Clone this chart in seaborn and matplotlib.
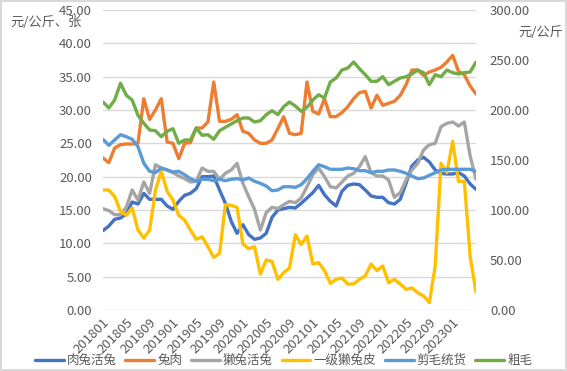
import numpy as np
import pandas as pd
import matplotlib
matplotlib.use('Agg')
import matplotlib.pyplot as plt
import seaborn as sns
from matplotlib.ticker import FormatStrFormatter, MultipleLocator

# Месяцы 201801 - 202305
months = [f"{y}{m:02d}" for y in range(2018, 2024) for m in range(1, 13)][:65]
tick_labels = months[:61:4]

# Левая ось (元/公斤、张)
rabbit_live = [11.9, 12.6, 13.6, 13.8, 14.4, 16.2, 15.9, 17.5, 16.6, 16.6,
               16.6, 15.6, 15.1, 16.3, 17.2, 17.5, 18.2, 20.0, 20.0, 20.1,
               18.0, 16.0, 13.3, 11.5, 12.8, 11.3, 10.6, 10.8, 11.5, 13.9,
               15.0, 15.2, 15.4, 15.3, 16.0, 16.8, 17.6, 18.7, 17.3, 16.3,
               15.6, 17.8, 18.7, 18.9, 18.8, 18.0, 17.1, 16.9, 16.9, 16.1,
               15.9, 16.6, 19.0, 21.6, 22.5, 22.9, 22.2, 21.0, 20.5, 20.4,
               20.4, 20.6, 20.1, 18.9, 18.1]
rabbit_meat = [22.8, 22.1, 24.3, 24.8, 24.9, 24.9, 25.0, 31.7, 28.6, 30.0,
               31.7, 25.2, 25.0, 22.7, 25.0, 25.1, 27.3, 27.3, 28.2, 34.2,
               28.3, 28.3, 28.6, 29.3, 26.8, 26.5, 25.5, 25.0, 25.0, 25.5,
               27.2, 29.0, 26.5, 26.3, 26.5, 34.2, 29.8, 29.4, 31.7, 29.0,
               29.0, 29.6, 30.5, 31.7, 32.6, 32.8, 30.3, 32.2, 30.7, 31.0,
               31.3, 32.2, 33.8, 36.0, 36.0, 35.2, 35.7, 36.0, 36.4, 37.2,
               38.2, 35.8, 35.3, 33.6, 32.4]
rex_live = [15.2, 14.9, 14.3, 14.3, 15.4, 18.0, 16.5, 19.2, 17.5, 21.8,
            21.3, 21.0, 20.6, 20.1, 19.7, 19.2, 19.3, 21.3, 20.8, 20.8,
            19.6, 20.5, 21.0, 22.0, 19.0, 17.0, 15.1, 12.0, 14.6, 15.4,
            15.2, 15.8, 16.3, 16.1, 16.8, 18.5, 20.3, 21.3, 20.0, 18.5,
            18.3, 19.2, 20.1, 20.5, 21.5, 23.0, 20.6, 20.1, 20.1, 19.5,
            16.9, 17.6, 19.5, 21.0, 22.0, 24.0, 24.8, 25.0, 27.5, 28.0,
            28.2, 27.6, 28.2, 23.1, 19.6]
rex_skin = [18.0, 18.0, 17.0, 14.8, 14.2, 15.3, 12.0, 10.8, 12.0, 18.0,
            20.8, 17.8, 16.5, 14.2, 13.5, 12.0, 10.6, 11.0, 9.5, 7.9,
            8.5, 15.8, 15.7, 15.4, 9.9, 9.2, 9.5, 5.4, 7.5, 7.3,
            4.6, 5.6, 6.3, 11.3, 9.8, 11.1, 6.9, 7.1, 5.9, 4.0,
            4.6, 4.8, 3.9, 3.9, 4.6, 5.1, 6.9, 5.9, 6.6, 4.1,
            4.6, 3.9, 3.1, 3.3, 2.6, 2.1, 1.1, 6.6, 22.0, 20.6,
            25.3, 19.3, 19.3, 8.0, 2.7]

# Правая ось (元/公斤)
shorn_wool = [170.7, 164.7, 170.0, 175.3, 173.3, 170.7, 163.3, 146.7, 138.7, 137.3,
              142.0, 140.0, 138.0, 138.7, 135.3, 131.3, 128.7, 130.7, 130.7, 129.3,
              130.7, 129.3, 130.7, 131.3, 130.0, 132.0, 128.7, 126.7, 124.0, 119.3,
              120.0, 123.3, 123.3, 122.7, 125.3, 131.3, 138.7, 145.3, 143.3, 140.7,
              140.7, 140.7, 142.0, 141.3, 139.3, 139.3, 137.3, 138.7, 138.7, 140.0,
              140.0, 138.7, 136.7, 134.0, 131.3, 132.0, 134.7, 137.3, 140.0, 140.7,
              140.7, 140.7, 140.7, 140.7, 138.7]
coarse_wool = [208.0, 202.0, 210.0, 226.7, 214.7, 210.0, 194.7, 186.7, 180.0, 179.3,
               173.3, 178.7, 181.3, 166.7, 170.0, 170.0, 182.0, 174.7, 175.3, 170.7,
               179.3, 182.7, 186.0, 189.3, 192.0, 192.0, 188.0, 189.3, 195.3, 199.3,
               195.3, 203.3, 208.0, 204.0, 198.7, 202.7, 210.0, 215.3, 212.0, 228.0,
               232.0, 240.0, 242.0, 248.0, 241.3, 235.3, 228.7, 228.7, 233.3, 225.3,
               228.7, 232.0, 233.3, 236.0, 240.0, 237.3, 225.3, 235.3, 233.3, 240.0,
               237.3, 236.0, 237.3, 238.0, 248.0]

left_series = [('肉兔活兔', rabbit_live, '#4472C4'),
               ('兔肉', rabbit_meat, '#ED7D31'),
               ('獭兔活兔', rex_live, '#A5A5A5'),
               ('一级獭兔皮', rex_skin, '#FFC000')]
right_series = [('剪毛统货', shorn_wool, '#5B9BD5'),
                ('粗毛', coarse_wool, '#70AD47')]

sns.set_style('white')
plt.rcParams['font.family'] = ['Noto Sans CJK SC', 'DejaVu Sans']
text_color = '#595959'

fig = plt.figure(figsize=(5.67, 3.71), dpi=100, edgecolor='#d9d9d9', linewidth=1.5)
ax1 = fig.add_axes([103 / 567, 1 - 310 / 371, 373 / 567, 300 / 371])
ax2 = ax1.twinx()

x = np.arange(len(months))
for name, vals, color in left_series:
    sns.lineplot(x=x, y=vals, ax=ax1, color=color, linewidth=2.4, label=name, legend=False)
for name, vals, color in right_series:
    sns.lineplot(x=x, y=vals, ax=ax2, color=color, linewidth=2.4, label=name, legend=False)
h1, l1 = ax1.get_legend_handles_labels()
h2, l2 = ax2.get_legend_handles_labels()

ax1.set_xlim(0, len(months) - 1)
ax1.set_ylim(0, 45)
ax2.set_ylim(0, 300)
ax1.yaxis.set_major_locator(MultipleLocator(5))
ax2.yaxis.set_major_locator(MultipleLocator(50))
ax1.yaxis.set_major_formatter(FormatStrFormatter('%.2f'))
ax2.yaxis.set_major_formatter(FormatStrFormatter('%.2f'))
ax1.grid(axis='y', color='#d9d9d9', linewidth=1)
ax1.set_axisbelow(True)

ax1.set_xticks(x[:61:4])
ax1.set_xticklabels(tick_labels, rotation=45, ha='right', rotation_mode='anchor')
for ax in (ax1, ax2):
    for s in ax.spines.values():
        s.set_visible(False)
    ax.tick_params(length=0, labelsize=9.5, colors=text_color)
ax1.tick_params(axis='y', pad=8)
ax2.tick_params(axis='y', pad=10)
ax1.tick_params(axis='x', pad=4, labelsize=9.5)
ax1.set_xlabel('')
ax1.set_ylabel('')
ax2.set_ylabel('')

fig.text(10 / 567, 1 - 23 / 371, '元/公斤、张', fontsize=9.5, color=text_color, va='center')
fig.text(518 / 567, 1 - 32 / 371, '元/公斤', fontsize=9.5, color=text_color, va='center')

fig.legend(h1 + h2, l1 + l2, loc='lower center', bbox_to_anchor=(0.5, -0.02), ncol=6,
           frameon=False, fontsize=9, handlelength=2.3, columnspacing=0.7,
           handletextpad=0.25, labelcolor=text_color)

fig.savefig('out.png', dpi=100)
